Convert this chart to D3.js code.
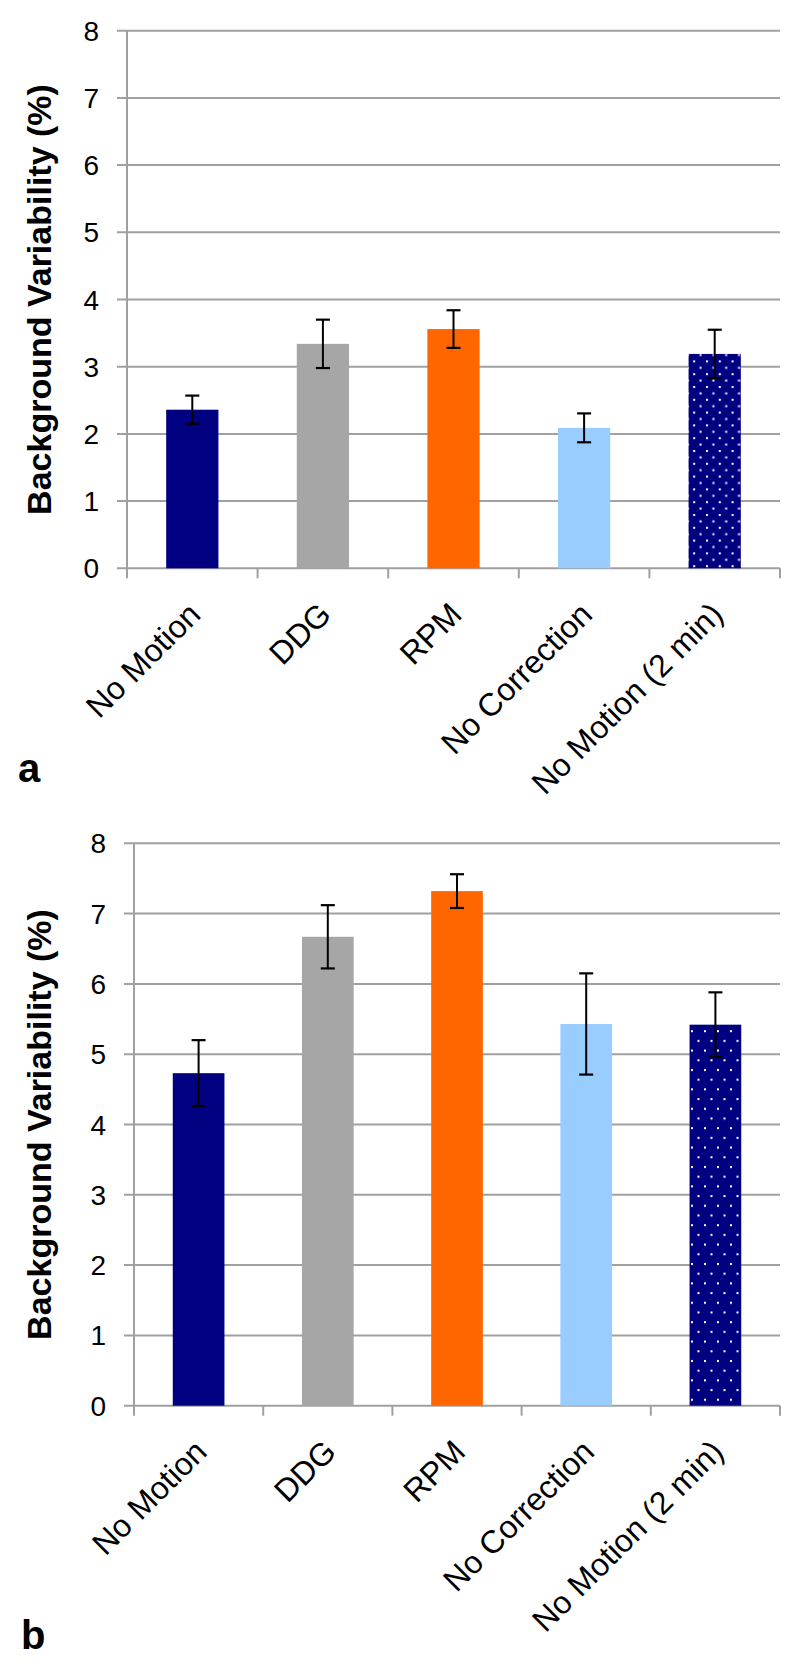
<!DOCTYPE html>
<html>
<head>
<meta charset="utf-8">
<script src="https://cdn.jsdelivr.net/npm/d3@7"></script>
<style>
  html, body { margin: 0; padding: 0; background: #fff; }
  svg { display: block; }
</style>
</head>
<body>
<script>
// ---- data ----
const categories = ["No Motion", "DDG", "RPM", "No Correction", "No Motion (2 min)"];
const valuesA = [2.36, 3.34, 3.56, 2.09, 3.19];
const errorsA = [0.21, 0.36, 0.28, 0.215, 0.36];
const valuesB = [4.73, 6.67, 7.32, 5.43, 5.42];
const errorsB = [0.47, 0.45, 0.24, 0.72, 0.46];
const yTicks = [0, 1, 2, 3, 4, 5, 6, 7, 8];
const yTitle = "Background Variability (%)";
const panelLabels = ["a", "b"];

// ---- styles ----
const gridColor = "#A0A0A0";
const W = 800, H = 1667;
const FONT = "Liberation Sans, Arial, sans-serif";

const svg = d3.select("body").append("svg").attr("width", W).attr("height", H);
const defs = svg.append("defs");

function makeDots(id, pw, ph) {
  const p = defs.append("pattern").attr("id", id)
    .attr("patternUnits", "userSpaceOnUse").attr("width", pw).attr("height", ph);
  p.append("rect").attr("width", pw).attr("height", ph).attr("fill", "#000080");
  p.append("rect").attr("x", 2).attr("y", 2).attr("width", 2).attr("height", 2).attr("fill", "#fff");
  p.append("rect").attr("x", 2 + pw / 2).attr("y", 2 + ph / 2).attr("width", 2).attr("height", 2).attr("fill", "#fff");
}
makeDots("dotsA", 12.8, 12.8);
makeDots("dotsB", 13, 19.4);

function drawPanel(cfg) {
  const { left, right, top, bottom, values, errors, label, fills } = cfg;
  const g = svg.append("g");
  const x = d3.scaleBand().domain(categories).range([left, right])
    .paddingInner(0.6).paddingOuter(0.3);
  const y = d3.scaleLinear().domain([0, 8]).range([bottom, top]);
  const step = x.step();

  // gridlines
  g.selectAll(".grid").data(yTicks).enter().append("line")
    .attr("x1", left - 10).attr("x2", right)
    .attr("y1", d => y(d)).attr("y2", d => y(d))
    .attr("stroke", gridColor).attr("stroke-width", 2);

  // y axis line
  g.append("line").attr("x1", left).attr("x2", left)
    .attr("y1", top).attr("y2", bottom)
    .attr("stroke", gridColor).attr("stroke-width", 2);

  // category tick marks
  g.selectAll(".ctick").data(d3.range(categories.length + 1)).enter().append("line")
    .attr("x1", i => left + i * step).attr("x2", i => left + i * step)
    .attr("y1", bottom).attr("y2", bottom + 10)
    .attr("stroke", gridColor).attr("stroke-width", 2);

  // y tick labels
  g.selectAll(".ylab").data(yTicks).enter().append("text")
    .attr("x", left - 28).attr("y", d => y(d))
    .attr("dy", "0.36em").attr("text-anchor", "end")
    .attr("font-family", FONT)
    .attr("font-size", 28).attr("fill", "#000")
    .text(d => d);

  // bars
  g.selectAll(".bar").data(categories).enter().append("rect")
    .attr("x", d => x(d)).attr("width", x.bandwidth())
    .attr("y", (d, i) => y(values[i]))
    .attr("height", (d, i) => y(0) - y(values[i]))
    .attr("fill", (d, i) => fills[i]);

  // error bars
  const cap = 7;
  categories.forEach((c, i) => {
    const cx = x(c) + x.bandwidth() / 2;
    const y1 = y(values[i] + errors[i]), y2 = y(values[i] - errors[i]);
    g.append("line").attr("x1", cx).attr("x2", cx).attr("y1", y1).attr("y2", y2)
      .attr("stroke", "#000").attr("stroke-width", 2);
    [y1, y2].forEach(yy => g.append("line")
      .attr("x1", cx - cap).attr("x2", cx + cap).attr("y1", yy).attr("y2", yy)
      .attr("stroke", "#000").attr("stroke-width", 2.2));
  });

  // x labels
  g.selectAll(".xlab").data(categories).enter().append("text")
    .attr("transform", d => `translate(${x(d) + x.bandwidth() / 2 + 10},${bottom + 48}) rotate(-45)`)
    .attr("text-anchor", "end")
    .attr("font-family", FONT)
    .attr("font-size", 32).attr("fill", "#000")
    .text(d => d);

  // y title
  g.append("text")
    .attr("transform", `translate(51,${(top + bottom) / 2}) rotate(-90)`)
    .attr("text-anchor", "middle")
    .attr("font-family", FONT)
    .attr("font-weight", "bold").attr("font-size", 34).attr("fill", "#000")
    .text(yTitle);

  // panel label
  g.append("text").attr("x", cfg.lx).attr("y", cfg.ly)
    .attr("font-family", FONT)
    .attr("font-weight", "bold").attr("font-size", 40).attr("fill", "#000")
    .text(label);
}

drawPanel({ left: 127, right: 780, top: 30.7, bottom: 568.3,
  values: valuesA, errors: errorsA, label: panelLabels[0], lx: 18, ly: 782,
  fills: ["#000080", "#A6A6A6", "#FF6600", "#99CCFF", "url(#dotsA)"] });
drawPanel({ left: 134, right: 780, top: 843.3, bottom: 1405.7,
  values: valuesB, errors: errorsB, label: panelLabels[1], lx: 21, ly: 1649,
  fills: ["#000080", "#A6A6A6", "#FF6600", "#99CCFF", "url(#dotsB)"] });
</script>
</body>
</html>
